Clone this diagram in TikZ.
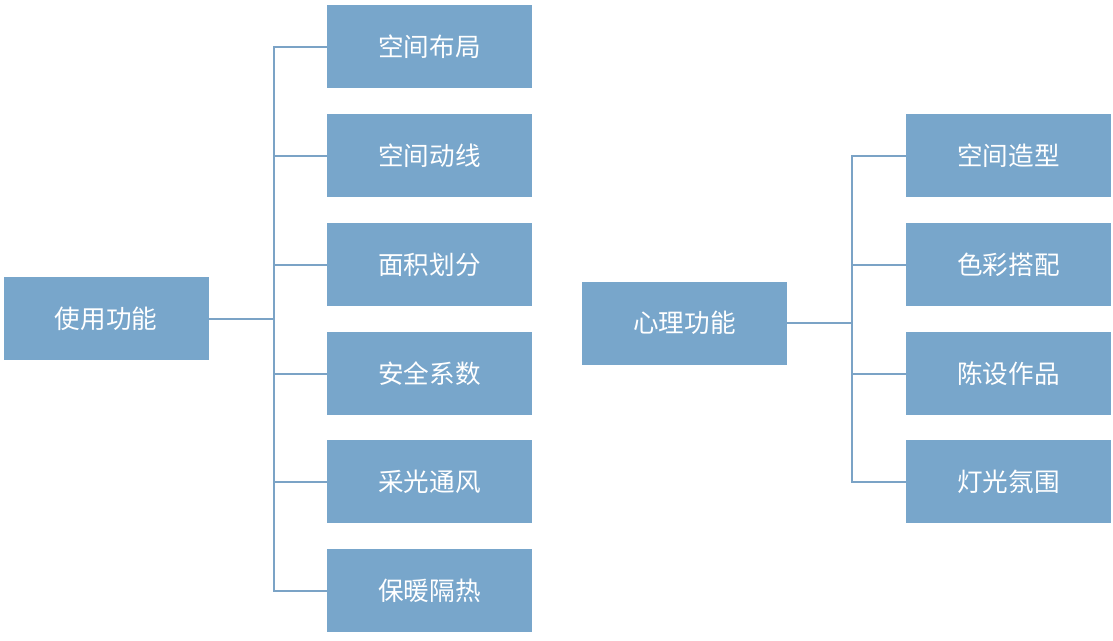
\documentclass[tikz,border=0pt]{standalone}
\usepackage{fontspec}
\setmainfont{Noto Sans CJK SC}
\definecolor{boxblue}{HTML}{78A6CB}
\definecolor{lineblue}{HTML}{7BA3C6}
\begin{document}
\begin{tikzpicture}[x=0.75pt,y=-0.75pt,
  box/.style={fill=boxblue,draw=none,minimum width=205*0.75pt,minimum height=83*0.75pt,inner sep=0pt,text=white,font=\fontsize{19.2pt}{22pt}\selectfont},
  conn/.style={draw=lineblue,line width=1.5pt}]
\useasboundingbox (0,0) rectangle (1113,640);
% left
\node[box] (L) at (106,318.5) {使用功能};
\node[box] (L1) at (429.5,46.5) {空间布局};
\node[box] (L2) at (429.5,155.5) {空间动线};
\node[box] (L3) at (429.5,264.5) {面积划分};
\node[box] (L4) at (429.5,373.5) {安全系数};
\node[box] (L5) at (429.5,481.5) {采光通风};
\node[box] (L6) at (429.5,590.5) {保暖隔热};
\coordinate (lt) at (274,318.5);
\draw[conn] (L.east) -- (lt);
\foreach \c in {L1,L2,L3,L4,L5,L6} \draw[conn] (lt) |- (\c.west);
% right
\node[box] (R) at (684.5,323) {心理功能};
\node[box] (R1) at (1008.5,155.5) {空间造型};
\node[box] (R2) at (1008.5,264.5) {色彩搭配};
\node[box] (R3) at (1008.5,373.5) {陈设作品};
\node[box] (R4) at (1008.5,481.5) {灯光氛围};
\coordinate (rt) at (852,323);
\draw[conn] (R.east) -- (rt);
\foreach \c in {R1,R2,R3,R4} \draw[conn] (rt) |- (\c.west);
\end{tikzpicture}
\end{document}
